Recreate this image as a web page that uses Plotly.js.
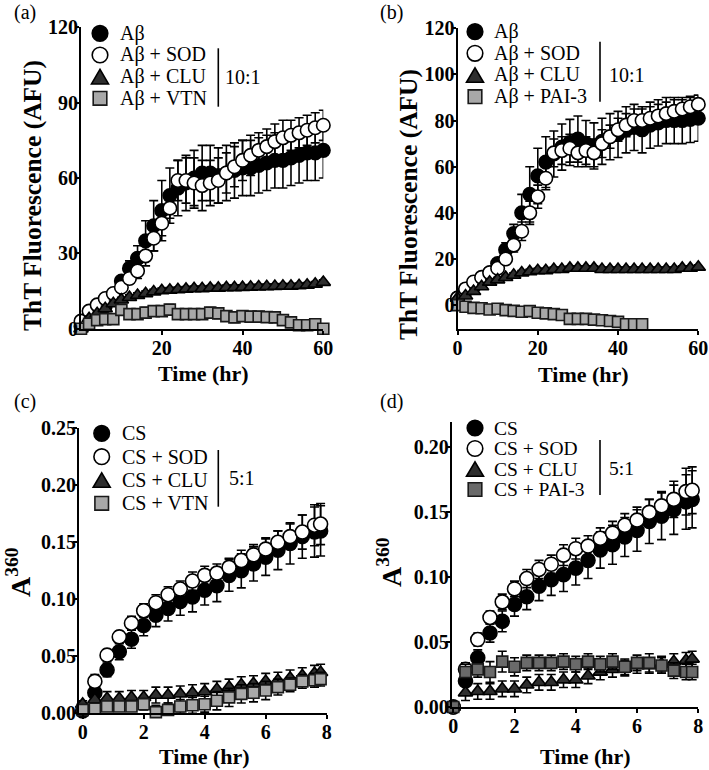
<!DOCTYPE html>
<html>
<head>
<meta charset="utf-8">
<script src="https://cdn.plot.ly/plotly-3.0.1.min.js"></script>
<style>html,body{margin:0;padding:0;background:#fff;}#chart{width:709px;height:770px;}</style>
</head>
<body>
<div id="chart"></div>
<script>
// ---------- DATA ----------
// Panels (a) and (b): time in hours
const timeAB = [0,2,4,6,8,10,12,14,16,18,20,22,24,26,28,30,32,34,36,38,40,42,44,46,48,50,52,54,56,58,60];
const timePAI = [0,2,4,6,8,10,12,14,16,18,20,22,24,26,28,30,32,34,36,38,40,42,44,46];
// Panels (c) and (d)
const timeCD = [0,0.4,0.8,1.2,1.6,2.0,2.4,2.8,3.2,3.6,4.0,4.4,4.8,5.2,5.6,6.0,6.4,6.8,7.2,7.6,7.8];

// (a)
const a_Ab      = [1,4,7,9,12,19,24,28,35,41,47,53,56,58,60,62,62,61,62,63,64,64,65,66,67,67,68,69,70,70,71];
const a_Ab_err  = [0.5,1,1,1,1.5,2,3,5,8,10,12,11,11,11,11,11,11,11,11,11,11,11,11,11,11,11,11,11,11,11,11];
const a_SOD     = [3,7,9.5,12,14,16.5,20,23,29,36,42,48,59,59,58,57,58,59,62,64.5,67,69,71,72.5,74.5,76,77,78,79,80,81];
const a_SOD_err = [0.5,1,1,1,1,1.5,2,3,4,5,5,4,8,9,10,10,9,9,8,8,8,8,7,7,7,7,6,6,6,6,6];
const a_CLU     = [0,4,6,8,10,11.5,12.5,13.3,14,14.7,15.2,15.4,15.6,15.8,16,16,16.2,16.2,16.4,16.4,16.5,16.6,16.7,16.8,16.9,17,17,17.2,17.4,17.8,18.5];
const a_CLU_err = [0.5,1,1,1,1,1,1,1,1,1,1,1,1,1,1,1,1,1,1,1,1,1,1,1,1,1,1,1,1,1,1];
const a_VTN     = [0,2,3.4,3.8,3.8,7.5,5.8,5.8,6.4,7,7,7.6,5.8,5.8,5.8,5.8,6.4,6.1,5,4.5,5,4.8,4.8,4.6,4.5,3.4,2.5,1.4,1.4,1.8,0];
const a_VTN_err = [1,2,2,2,2,2,2,2,2,2,2,2,2,2,2,2,2,2,2,2,2,2,2,2,2,2,2,2,2,2,2];

// (b)
const b_Ab      = [3,6,8,11,14,18,24,31,40,48,56,62,65.5,68.5,70.5,72,70,69,71,73,74,76,77,76,78,79,80,80,80,80.5,81];
const b_Ab_err  = [0.5,1,1,1,1.5,2,3,4,8,12,12,11,10,10,10,10,10,10,10,10,10,10,10,10,10,10,10,10,10,10,10];
const b_SOD     = [3,7,10,12,14,16,20,26,32,40,47,55,66,67,68,66,67,66,70,73,76,78,80,80,81,82,83,84,85,86,87];
const b_SOD_err = [0.5,1,1,1,1,1.5,2,3,4,5,5,5,6,6,6,6,6,6,6,5,5,5,5,5,5,5,5,5,4,4,4];
const b_CLU     = [3,4,6,8,10,11,12,13,14,14.5,15,15,15.5,15.5,16,16,16,16,15.5,15.5,15.5,15.5,15.5,15.5,15.5,15.5,15.5,15.5,16,16,16.5];
const b_CLU_err = [0.5,1,1,1,1,1,1,1,1,1,1,1,1,1,1,1,1,1,1,1,1,1,1,1,1,1,1,1,1,1,1];
const b_PAI     = [0,-0.7,-1.2,-1.4,-1.9,-1.6,-2.2,-2.5,-2.9,-2.6,-3.3,-3.6,-3.9,-4.3,-6,-6,-6,-6.3,-6.6,-6.9,-7.3,-8.3,-8.3,-8.3];
const b_PAI_err = [0.5,0.8,0.8,0.8,0.8,0.8,0.8,0.8,0.8,0.8,0.8,0.8,0.8,0.8,0.8,0.8,0.8,0.8,0.8,0.8,0.8,0.8,0.8,0.8];

// (c)
const c_CS      = [0.002,0.018,0.038,0.054,0.065,0.077,0.086,0.092,0.098,0.102,0.108,0.112,0.121,0.125,0.131,0.137,0.143,0.149,0.155,0.159,0.160];
const c_CS_err  = [0.001,0.004,0.006,0.007,0.008,0.009,0.010,0.011,0.012,0.013,0.013,0.014,0.014,0.015,0.015,0.016,0.017,0.018,0.019,0.022,0.022];
const c_SOD     = [-0.003,0.028,0.051,0.067,0.079,0.090,0.097,0.104,0.109,0.116,0.121,0.123,0.128,0.134,0.139,0.144,0.150,0.155,0.159,0.165,0.166];
const c_SOD_err = [0.001,0.006,0.005,0.005,0.006,0.006,0.007,0.007,0.007,0.008,0.008,0.008,0.008,0.009,0.009,0.010,0.010,0.011,0.015,0.018,0.018];
const c_CLU     = [0.008,0.012,0.013,0.013,0.014,0.014,0.016,0.016,0.017,0.018,0.019,0.021,0.023,0.025,0.026,0.028,0.029,0.031,0.033,0.035,0.036];
const c_CLU_err = [0.003,0.006,0.006,0.006,0.006,0.006,0.007,0.007,0.007,0.007,0.007,0.007,0.007,0.007,0.007,0.007,0.007,0.007,0.007,0.007,0.007];
const c_VTN     = [0.003,0.004,0.006,0.006,0.006,0.008,0.001,0.003,0.006,0.007,0.008,0.011,0.014,0.017,0.018,0.020,0.023,0.025,0.028,0.029,0.030];
const c_VTN_err = [0.002,0.004,0.004,0.004,0.004,0.005,0.006,0.006,0.006,0.007,0.007,0.008,0.008,0.008,0.008,0.008,0.007,0.006,0.006,0.006,0.006];

// (d)
const d_CS      = [0,0.020,0.038,0.057,0.066,0.079,0.085,0.093,0.098,0.102,0.107,0.113,0.121,0.125,0.131,0.136,0.143,0.147,0.152,0.158,0.160];
const d_CS_err  = [0.001,0.004,0.006,0.007,0.008,0.009,0.010,0.011,0.012,0.013,0.013,0.014,0.014,0.015,0.015,0.016,0.017,0.018,0.019,0.021,0.022];
const d_SOD     = [0,0.029,0.052,0.069,0.081,0.091,0.099,0.106,0.110,0.117,0.122,0.124,0.130,0.134,0.140,0.144,0.150,0.155,0.160,0.166,0.167];
const d_SOD_err = [0.001,0.005,0.005,0.005,0.006,0.006,0.007,0.007,0.007,0.008,0.008,0.008,0.008,0.009,0.009,0.010,0.010,0.011,0.014,0.018,0.018];
const d_CLU     = [0,0.011,0.012,0.012,0.014,0.014,0.017,0.019,0.019,0.021,0.021,0.024,0.027,0.029,0.030,0.032,0.032,0.033,0.035,0.036,0.037];
const d_CLU_err = [0.001,0.006,0.006,0.006,0.006,0.006,0.006,0.006,0.006,0.006,0.006,0.006,0.006,0.006,0.006,0.006,0.006,0.006,0.006,0.006,0.006];
const d_PAI     = [0,0.027,0.029,0.027,0.035,0.031,0.034,0.034,0.034,0.035,0.033,0.035,0.033,0.035,0.031,0.034,0.034,0.032,0.028,0.027,0.027];
const d_PAI_err = [0.001,0.006,0.006,0.008,0.008,0.007,0.006,0.006,0.006,0.006,0.006,0.006,0.006,0.006,0.006,0.006,0.007,0.006,0.006,0.006,0.006];

// labels
const labelsA = ['Aβ','Aβ + SOD','Aβ + CLU','Aβ + VTN'];
const labelsB = ['Aβ','Aβ + SOD','Aβ + CLU','Aβ + PAI-3'];
const labelsC = ['CS','CS + SOD','CS + CLU','CS + VTN'];
const labelsD = ['CS','CS + SOD','CS + CLU','CS + PAI-3'];
const ratioAB = '10:1';
const ratioCD = '5:1';
const panelTags = ['(a)','(b)','(c)','(d)'];
const yTitleAB = 'ThT Fluorescence (AFU)';
const yTitleCD = 'A<sup>360</sup>';
const xTitle = 'Time (hr)';

// ---------- HELPERS ----------
const W = 709, H = 770;
const X = px => px / W;
const Y = py => 1 - py / H;
const SERIF = 'Liberation Serif';

const STY = {
  filled: {symbol:'circle', color:'#000', line:'#000'},
  open:   {symbol:'circle', color:'#fff', line:'#000'},
  tri:    {symbol:'triangle-up', color:'#2e2e2e', line:'#000'},
  sqL:    {symbol:'square', color:'#a8a8a8', line:'#1a1a1a'},
  sqD:    {symbol:'square', color:'#6a6a6a', line:'#1a1a1a'}
};
const SIZES = {circle:13.5, 'triangle-up':12.5, square:11};

function tr(name, x, y, err, xa, ya, st, csize) {
  const s = (st.symbol === 'circle' && csize) ? csize : SIZES[st.symbol];
  return {
    type:'scatter', mode:'markers', name:name, x:x, y:y, xaxis:xa, yaxis:ya,
    cliponaxis:false, showlegend:false,
    marker:{symbol:st.symbol, size:s, color:st.color, line:{color:st.line, width:1.6}},
    error_y:{type:'data', array:err, visible:true, color:'#000', thickness:1.6, width:4.5}
  };
}

const data = [
  tr(labelsA[0], timeAB, a_Ab,  a_Ab_err,  'x','y', STY.filled),
  tr(labelsA[1], timeAB, a_SOD, a_SOD_err, 'x','y', STY.open),
  tr(labelsA[2], timeAB, a_CLU, a_CLU_err, 'x','y', STY.tri),
  tr(labelsA[3], timeAB, a_VTN, a_VTN_err, 'x','y', STY.sqL),

  tr(labelsB[0], timeAB, b_Ab,  b_Ab_err,  'x2','y2', STY.filled),
  tr(labelsB[1], timeAB, b_SOD, b_SOD_err, 'x2','y2', STY.open),
  tr(labelsB[2], timeAB, b_CLU, b_CLU_err, 'x2','y2', STY.tri),
  tr(labelsB[3], timePAI, b_PAI, b_PAI_err,'x2','y2', STY.sqL),

  tr(labelsC[0], timeCD, c_CS,  c_CS_err,  'x3','y3', STY.filled, 14),
  tr(labelsC[1], timeCD, c_SOD, c_SOD_err, 'x3','y3', STY.open, 14),
  tr(labelsC[2], timeCD, c_CLU, c_CLU_err, 'x3','y3', STY.tri),
  tr(labelsC[3], timeCD, c_VTN, c_VTN_err, 'x3','y3', STY.sqL),

  tr(labelsD[0], timeCD, d_CS,  d_CS_err,  'x4','y4', STY.filled, 14),
  tr(labelsD[1], timeCD, d_SOD, d_SOD_err, 'x4','y4', STY.open, 14),
  tr(labelsD[2], timeCD, d_CLU, d_CLU_err, 'x4','y4', STY.tri),
  tr(labelsD[3], timeCD, d_PAI, d_PAI_err, 'x4','y4', STY.sqD)
];

const tickFont = {family:SERIF, size:20, weight:'bold', color:'#000'};
function ax(extra) {
  return Object.assign({
    showline:true, linewidth:2, linecolor:'#000', mirror:false,
    ticks:'outside', ticklen:4, tickwidth:2, tickcolor:'#000',
    showgrid:false, zeroline:false, tickfont:tickFont, fixedrange:true,
    tickmode:'array'
  }, extra);
}
const XS = -4, YS = -7;

const layout = {
  width:W, height:H, margin:{l:0,r:0,t:0,b:0},
  paper_bgcolor:'#fff', plot_bgcolor:'rgba(0,0,0,0)',
  showlegend:false,
  xaxis:  ax({domain:[X(81),X(323.3)],  range:[0,60], anchor:'y', tickvals:[20,40,60], ticklabelstandoff:XS}),
  yaxis:  ax({domain:[Y(328.7),Y(27.3)], range:[0,120], anchor:'x', tickvals:[0,30,60,90,120], ticklabelstandoff:YS}),
  xaxis2: ax({domain:[X(457.5),X(698.3)], range:[0,60], anchor:'y2', tickvals:[0,20,40,60], ticklabelstandoff:XS}),
  yaxis2: ax({domain:[Y(329.3),Y(28.3)], range:[-10.5,120], anchor:'x2', tickvals:[0,20,40,60,80,100,120], ticklabelstandoff:YS}),
  xaxis3: ax({domain:[X(79),X(326.7)], range:[-0.12,8], anchor:'y3', tickvals:[0,2,4,6,8], ticklabelstandoff:XS}),
  yaxis3: ax({domain:[Y(713.3),Y(428.3)], range:[0,0.25], anchor:'x3', tickvals:[0,0.05,0.10,0.15,0.20,0.25], tickformat:'.2f', ticklabelstandoff:YS}),
  xaxis4: ax({domain:[X(451.7),X(698.3)], range:[-0.05,8], anchor:'y4', tickvals:[0,2,4,6,8], ticklabelstandoff:XS}),
  yaxis4: ax({domain:[Y(707),Y(421.5)], range:[0,0.22], anchor:'x4', tickvals:[0,0.05,0.10,0.15,0.20], tickformat:'.2f', ticklabelstandoff:YS}),
  shapes:[], annotations:[]
};

function ann(text, px, py, opts) {
  return Object.assign({
    text:text, xref:'paper', yref:'paper', x:X(px), y:Y(py), showarrow:false,
    xanchor:'center', yanchor:'middle',
    font:{family:SERIF, size:20, color:'#000'}
  }, opts || {});
}

// legend built from shapes + text
function legend(mx, rows, tx, labels, sqStyle, barX, barY0, barY1, ratio, rx, ry, fs) {
  const kinds = ['filled','open','tri', sqStyle];
  kinds.forEach((k, i) => {
    const cy = rows[i];
    const st = STY[k];
    if (st.symbol === 'circle') {
      const r = 7.8;
      layout.shapes.push({type:'circle', xref:'paper', yref:'paper',
        x0:X(mx-r), x1:X(mx+r), y0:Y(cy+r), y1:Y(cy-r),
        fillcolor:st.color, line:{color:st.line, width:1.6}});
    } else if (st.symbol === 'triangle-up') {
      const w = 17, h = 14.5;
      layout.shapes.push({type:'path', xref:'paper', yref:'paper',
        path:`M ${X(mx-w/2)},${Y(cy+h/2)} L ${X(mx+w/2)},${Y(cy+h/2)} L ${X(mx)},${Y(cy-h/2)} Z`,
        fillcolor:st.color, line:{color:st.line, width:1.6}});
    } else {
      const r = 6.8;
      layout.shapes.push({type:'rect', xref:'paper', yref:'paper',
        x0:X(mx-r), x1:X(mx+r), y0:Y(cy+r), y1:Y(cy-r),
        fillcolor:st.color, line:{color:st.line, width:1.6}});
    }
    layout.annotations.push(ann(labels[i], tx, cy, {xanchor:'left', font:{family:SERIF, size:fs, color:'#000'}}));
  });
  layout.shapes.push({type:'line', xref:'paper', yref:'paper',
    x0:X(barX), x1:X(barX), y0:Y(barY0), y1:Y(barY1), line:{color:'#000', width:1.6}});
  layout.annotations.push(ann(ratio, rx, ry, {xanchor:'left', font:{family:SERIF, size:fs, color:'#000'}}));
}

legend(100,   [33.3,55,76.7,98.3],     118.3, labelsA, 'sqL', 218.3, 48.3, 106.7, ratioAB, 223.3, 76.7, 20);
legend(475,   [31.7,53.3,75,96.7],     491.7, labelsB, 'sqL', 600,   41.7, 101.7, ratioAB, 606.7, 75, 20);
legend(101.7, [433.3,456.7,480,503.3], 120,   labelsC, 'sqL', 218.3, 450,  506.7, ratioCD, 226.7, 478.3, 20);
legend(475,   [428,448.5,469,489.5],   491.7, labelsD, 'sqD', 600,   440,  495,   ratioCD, 606.7, 468.5, 19.5);

// panel tags
layout.annotations.push(ann(panelTags[0], 25, 13));
layout.annotations.push(ann(panelTags[1], 391.7, 13));
layout.annotations.push(ann(panelTags[2], 25, 401.7));
layout.annotations.push(ann(panelTags[3], 391.7, 401.7));

// axis titles
const tFont = {family:SERIF, size:25.5, weight:'bold', color:'#000'};
const aFont = {family:SERIF, size:28, weight:'bold', color:'#000'};
const xtFont = {family:SERIF, size:22, weight:'bold', color:'#000'};
layout.annotations.push(ann(yTitleAB, 33, 196, {textangle:-90, font:tFont}));
layout.annotations.push(ann(yTitleAB, 409, 205, {textangle:-90, font:tFont}));
layout.annotations.push(ann(yTitleCD, 18, 572, {textangle:-90, font:aFont}));
layout.annotations.push(ann(yTitleCD, 389, 562, {textangle:-90, font:aFont}));
layout.annotations.push(ann(xTitle, 203, 373, {font:xtFont}));
layout.annotations.push(ann(xTitle, 583, 374, {font:xtFont}));
layout.annotations.push(ann(xTitle, 204, 756, {font:xtFont}));
layout.annotations.push(ann(xTitle, 585, 756, {font:xtFont}));

Plotly.newPlot('chart', data, layout, {staticPlot:true, displayModeBar:false});
</script>
</body>
</html>
